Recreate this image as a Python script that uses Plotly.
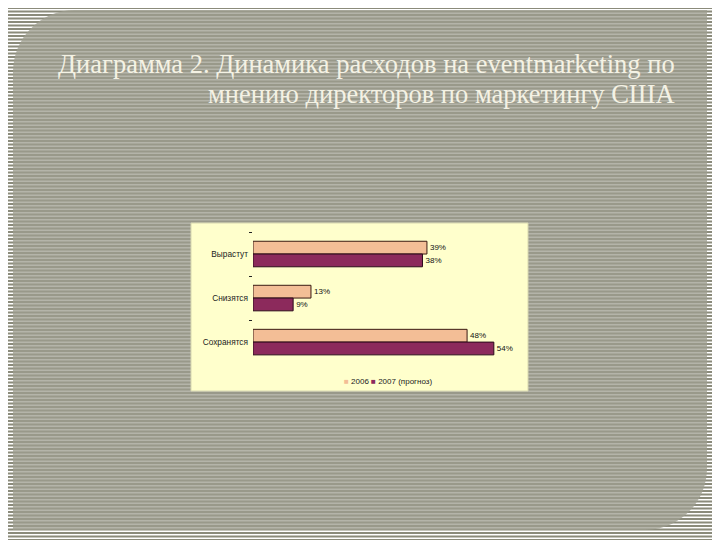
import plotly.graph_objects as go

categories = ["Вырастут", "Снизятся", "Сохранятся"]
values_2006 = [39, 13, 48]
values_2007 = [38, 9, 54]
series_names = ["2006", "2007 (прогноз)"]
series_colors = ["#F3BE96", "#8C2A5C"]
title_lines = ["Диаграмма 2. Динамика расходов на eventmarketing по",
               "мнению директоров по маркетингу США"]

W, H = 720, 540
OX, OY = 8, 8  # page offset of the figure in the browser


def px(x):
    return (x - OX) / W


def py(y):
    return 1 - (y - OY) / H


def P(x, y):
    return f"{px(x):.5f},{py(y):.5f}"


# stripe background path
stripe_parts = []
y = 0.0
while y < H + OY:
    stripe_parts.append(f"M{P(0, y)} L{P(W + OX, y)} L{P(W + OX, y + 2.0)} L{P(0, y + 2.0)} Z")
    y += 3.5
stripe_path = " ".join(stripe_parts)

# panel with rounded top-left and bottom-right corners
L, T, R, B, r = 13, 10, 707, 530, 62
k = 0.5523 * r
panel_path = (
    f"M{P(L + r, T)} L{P(R, T)} L{P(R, B - r)} "
    f"C{P(R, B - r + k)} {P(R - r + k, B)} {P(R - r, B)} "
    f"L{P(L, B)} L{P(L, T + r)} "
    f"C{P(L, T + r - k)} {P(L + r - k, T)} {P(L + r, T)} Z"
)

fig = go.Figure()
for name, vals, col, edge in [(series_names[0], values_2006, series_colors[0], "#3a1a12"),
                              (series_names[1], values_2007, series_colors[1], "#2a0a1a")]:
    fig.add_trace(go.Bar(
        y=categories, x=vals, name=name, orientation="h",
        marker=dict(color=col, line=dict(color=edge, width=1)),
        text=[f"{v}%" for v in vals], textposition="outside",
        textfont=dict(size=8, color="#111111", family="Liberation Sans"),
        cliponaxis=False,
    ))

legend_text = (f'<span style="color:{series_colors[0]}">■</span> {series_names[0]} '
               f'<span style="color:{series_colors[1]}">■</span> {series_names[1]}')

fig.update_layout(
    width=W, height=H,
    margin=dict(l=0, r=0, t=0, b=0),
    paper_bgcolor="#ffffff",
    plot_bgcolor="rgba(0,0,0,0)",
    barmode="group",
    bargap=0.42,
    bargroupgap=0.0,
    showlegend=False,
    xaxis=dict(
        domain=[px(253), px(253 + 60 * 4.46)], range=[0, 60],
        showgrid=False, showticklabels=False, zeroline=False, showline=False, ticks="",
    ),
    yaxis=dict(
        domain=[py(365), py(232)], range=[2.52, -0.5],
        showgrid=False, zeroline=False, showline=False,
        ticks="outside", ticklen=3, tickcolor="#222222", tickson="boundaries",
        tickfont=dict(size=8.3, color="#222222", family="Liberation Sans"),
        ticklabelstandoff=4,
    ),
    shapes=[
        dict(type="path", path=stripe_path, xref="paper", yref="paper",
             fillcolor="#8b8b7b", line=dict(width=0), layer="below"),
        dict(type="path", path=panel_path, xref="paper", yref="paper",
             fillcolor="#9e9e8f", opacity=0.77, line=dict(width=0), layer="below"),
        dict(type="rect", xref="paper", yref="paper",
             x0=px(191), x1=px(528), y0=py(391), y1=py(223),
             fillcolor="#FFFFCC", line=dict(color="#d8d8b0", width=1), layer="below"),
    ],
    annotations=[
        dict(text=title_lines[0], xref="paper", yref="paper", x=px(677), y=py(64),
             xanchor="right", yanchor="middle", align="right", showarrow=False,
             font=dict(family="Liberation Serif", size=26.5, color="#F4F2E4")),
        dict(text=title_lines[1], xref="paper", yref="paper", x=px(677), y=py(94),
             xanchor="right", yanchor="middle", align="right", showarrow=False,
             font=dict(family="Liberation Serif", size=26.5, color="#F4F2E4")),
        dict(text=legend_text, xref="paper", yref="paper", x=px(388), y=py(381),
             xanchor="center", yanchor="middle", showarrow=False,
             font=dict(family="Liberation Sans", size=8, color="#222222")),
    ],
)

fig.write_html("out.html")
